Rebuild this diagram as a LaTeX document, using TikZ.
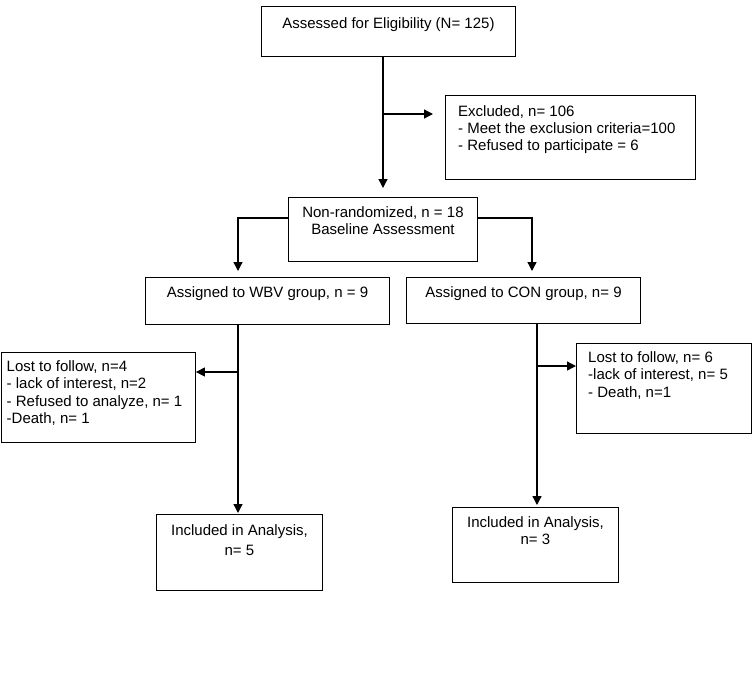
\documentclass[tikz,border=0pt]{standalone}
\usepackage{fontspec}
\setmainfont{Liberation Sans}
\usetikzlibrary{positioning,arrows.meta}
\tikzset{
  box/.style={draw, line width=0.9pt, anchor=north west, inner sep=0pt},
  txt/.style={inner sep=0pt, font=\fontsize{15}{17}\selectfont},
  arr/.style={line width=1.3pt, -{Triangle[length=9pt,width=9pt]}}
}
\begin{document}
\begin{tikzpicture}[x=1pt,y=-1pt]
\useasboundingbox (0,0) rectangle (752,681);
\node [box, minimum width=254pt, minimum height=50pt] (a) at (261,6) {};
\node [box, minimum width=250pt, minimum height=84pt] (ex) at (445,95) {};
\node [box, minimum width=189pt, minimum height=64pt] (nr) at (288,197) {};
\node [box, minimum width=244pt, minimum height=47pt] (wbv) at (145,277) {};
\node [box, minimum width=234pt, minimum height=46pt] (con) at (406,277) {};
\node [box, minimum width=194.5pt, minimum height=90pt] (lw) at (0.5,352) {};
\node [box, minimum width=175pt, minimum height=90pt] (lc) at (576,343) {};
\node [box, minimum width=166pt, minimum height=76pt] (iw) at (156,514) {};
\node [box, minimum width=166pt, minimum height=75pt] (ic) at (452,507) {};
\node [txt, below=11pt of a.north] (a-t) {Assessed for Eligibility (N= 125)};
\node [txt, align=left, below right=10pt and 13pt of ex.north west] (ex-t) {Excluded, n= 106\\- Meet the exclusion criteria=100\\- Refused to participate = 6};
\node [txt, align=center, below=9pt of nr.north] (nr-t) {Non-randomized, n = 18\\Baseline Assessment};
\node [txt, below=9pt of wbv.north] (wbv-t) {Assigned to WBV group, n = 9};
\node [txt, below=9pt of con.north] (con-t) {Assigned to CON group, n= 9};
\node [txt, align=left, below right=8pt and 6pt of lw.north west] (lw-t) {Lost to follow, n=4\\[0.5pt]- lack of interest, n=2\\[0.5pt]- Refused to analyze, n= 1\\[0.5pt]-Death, n= 1};
\node [txt, align=left, below right=8pt and 12pt of lc.north west] (lc-t) {Lost to follow, n= 6\\[0.5pt]-lack of interest, n= 5\\[0.5pt]- Death, n=1};
\node [txt, align=center, below=10pt of iw.north] (iw-t) {Included in Analysis,\\[3pt]n= 5};
\node [txt, align=center, below=9pt of ic.north] (ic-t) {Included in Analysis,\\n= 3};
\coordinate (c1) at (383,188);
\coordinate (b1) at (383,114);
\coordinate (b2) at (433,114);
\coordinate (n1) at (238,218);
\coordinate (n2) at (238,271);
\coordinate (n3) at (532,218);
\coordinate (n4) at (532,271);
\coordinate (w1) at (238,513);
\coordinate (w2) at (238,372);
\coordinate (k1) at (537,505);
\coordinate (k2) at (537,366);
\draw [arr] (a.south -| c1) -- (c1);
\draw [arr] (b1) -- (b2);
\draw [arr] (nr.west |- n1) -- (n1) -- (n2);
\draw [arr] (nr.east |- n3) -- (n3) -- (n4);
\draw [arr] (wbv.south -| w1) -- (w1);
\draw [arr] (w2) -- (w2 -| lw.east);
\draw [arr] (con.south -| k1) -- (k1);
\draw [arr] (k2) -- (k2 -| lc.west);
\end{tikzpicture}
\end{document}
